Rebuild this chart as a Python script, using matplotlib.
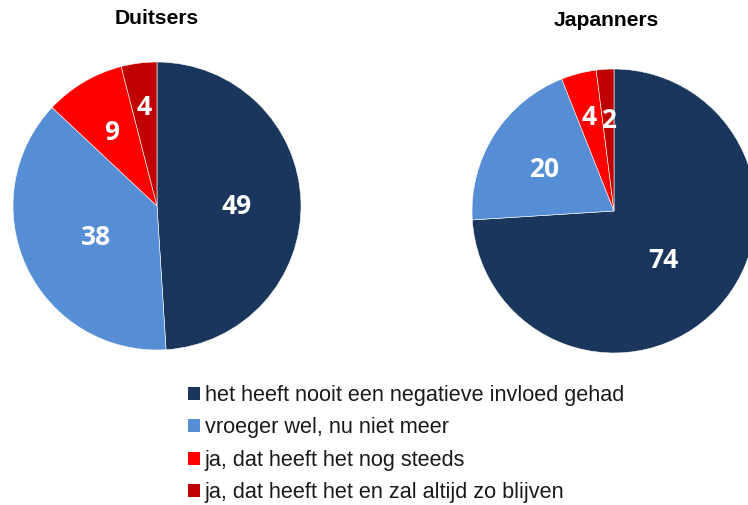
import matplotlib
matplotlib.use("Agg")
import matplotlib.pyplot as plt
import numpy as np

# --- data ---
groups = ["Duitsers", "Japanners"]
answers = ["het heeft nooit een negatieve invloed gehad",
           "vroeger wel, nu niet meer",
           "ja, dat heeft het nog steeds",
           "ja, dat heeft het en zal altijd zo blijven"]
duitsers = [49, 38, 9, 4]
japanners = [74, 20, 4, 2]

colors = ["#1B365D", "#558ED5", "#FF0000", "#C00000"]
# distance of each value label from the centre (fraction of radius)
label_dist = [[0.55, 0.47, 0.62, 0.71],
              [0.48, 0.58, 0.70, 0.66]]

W, H = 748, 505
fig = plt.figure(figsize=(W / 100, H / 100), dpi=100)

def px_axes(cx, cy, r):
    return fig.add_axes([(cx - r) / W, (H - cy - r) / H, 2 * r / W, 2 * r / H])

axes = [px_axes(157, 206, 144), px_axes(614, 211, 142)]
title_pos = [(157, 18), (606, 20)]

for i, (ax, vals) in enumerate(zip(axes, [duitsers, japanners])):
    wedges, _ = ax.pie(vals, colors=colors, startangle=90, counterclock=False,
                       wedgeprops=dict(edgecolor="white", linewidth=0.4))
    ax.set_xlim(-1, 1)
    ax.set_ylim(-1, 1)
    ax.set_aspect("equal")
    ax.axis("off")
    for w, v, d in zip(wedges, vals, label_dist[i]):
        ang = np.deg2rad((w.theta1 + w.theta2) / 2)
        ax.text(d * np.cos(ang), d * np.sin(ang), str(v), ha="center", va="center_baseline",
                color="white", fontsize=19, fontweight="bold", family="Open Sans")
    tx, ty = title_pos[i]
    fig.text(tx / W, (H - ty) / H, groups[i], ha="center", va="center",
             fontsize=15.2, fontweight="bold", family="Liberation Sans", color="black")

handles = [plt.Rectangle((0, 0), 1, 1, facecolor=c, edgecolor="none") for c in colors]
fig.legend(handles, answers, loc="upper left", bbox_to_anchor=(188 / W, (H - 385) / H),
           frameon=False, borderpad=0, borderaxespad=0, handlelength=0.55, handleheight=0.55,
           handletextpad=0.22, labelspacing=0.53,
           prop={"family": "Liberation Sans", "size": 15.6}, labelcolor="#1a1a1a")

fig.savefig("out.png", dpi=100)
